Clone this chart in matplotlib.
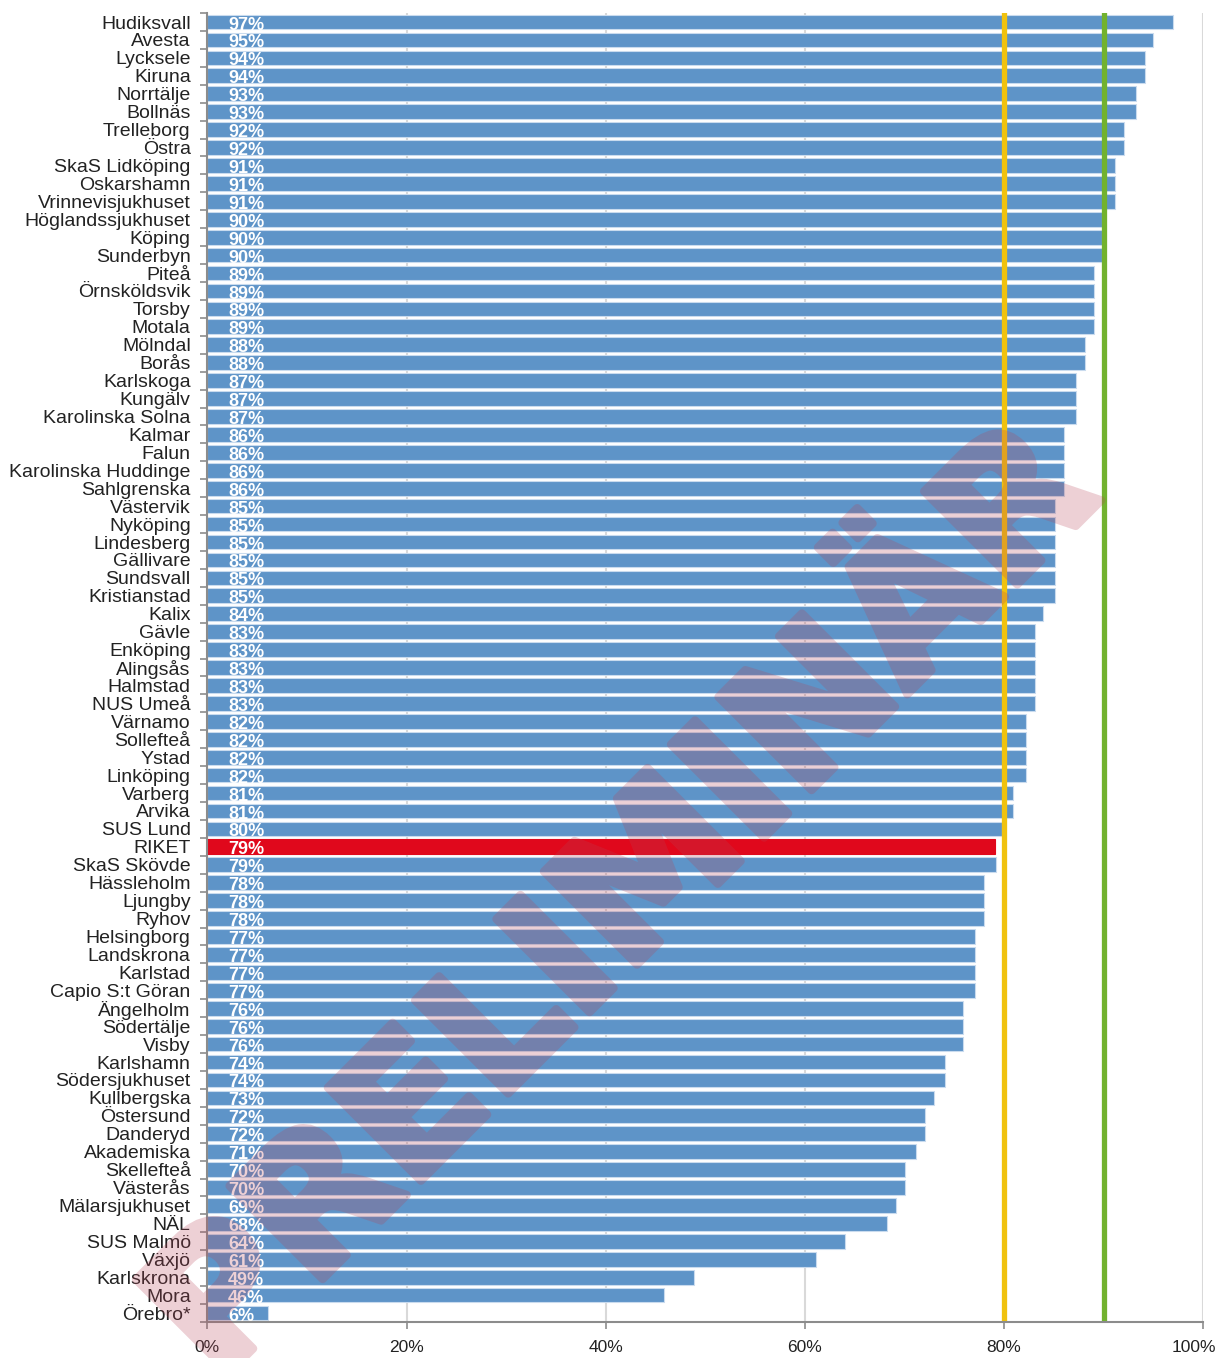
import matplotlib
matplotlib.use("Agg")
import matplotlib.pyplot as plt
import matplotlib.patheffects as pe
from matplotlib.ticker import FixedLocator
from matplotlib.transforms import ScaledTranslation

plt.rcParams['font.family'] = ['Liberation Sans', 'DejaVu Sans']

# hospitals, top to bottom
names = ["Hudiksvall", "Avesta", "Lycksele", "Kiruna", "Norrtälje", "Bollnäs",
         "Trelleborg", "Östra", "SkaS Lidköping", "Oskarshamn", "Vrinnevisjukhuset",
         "Höglandssjukhuset", "Köping", "Sunderbyn", "Piteå", "Örnsköldsvik",
         "Torsby", "Motala", "Mölndal", "Borås", "Karlskoga", "Kungälv",
         "Karolinska Solna", "Kalmar", "Falun", "Karolinska Huddinge", "Sahlgrenska",
         "Västervik", "Nyköping", "Lindesberg", "Gällivare", "Sundsvall",
         "Kristianstad", "Kalix", "Gävle", "Enköping", "Alingsås", "Halmstad",
         "NUS Umeå", "Värnamo", "Sollefteå", "Ystad", "Linköping", "Varberg",
         "Arvika", "SUS Lund", "RIKET", "SkaS Skövde", "Hässleholm", "Ljungby",
         "Ryhov", "Helsingborg", "Landskrona", "Karlstad", "Capio S:t Göran",
         "Ängelholm", "Södertälje", "Visby", "Karlshamn", "Södersjukhuset",
         "Kullbergska", "Östersund", "Danderyd", "Akademiska", "Skellefteå",
         "Västerås", "Mälarsjukhuset", "NÄL", "SUS Malmö", "Växjö", "Karlskrona",
         "Mora", "Örebro*"]

values = [97.0, 94.9, 94.1, 94.1, 93.2, 93.2,
          92.0, 92.0, 91.1, 91.1, 91.1,
          89.8, 89.8, 89.8, 89.0, 89.0,
          89.0, 89.0, 88.1, 88.1, 87.2, 87.2,
          87.2, 86.0, 86.0, 86.0, 86.0,
          85.1, 85.1, 85.1, 85.1, 85.1,
          85.1, 83.9, 83.1, 83.1, 83.1, 83.1,
          83.1, 82.2, 82.2, 82.2, 82.2, 80.9,
          80.9, 79.8, 79.1, 79.2, 78.0, 78.0,
          78.0, 77.1, 77.1, 77.1, 77.1,
          75.9, 75.9, 75.9, 74.1, 74.1,
          73.0, 72.1, 72.1, 71.2, 70.0,
          70.0, 69.1, 68.2, 64.0, 61.1, 48.9,
          45.9, 6.1]

labels = [97, 95, 94, 94, 93, 93, 92, 92, 91, 91, 91, 90, 90, 90, 89, 89,
          89, 89, 88, 88, 87, 87, 87, 86, 86, 86, 86, 85, 85, 85, 85, 85,
          85, 84, 83, 83, 83, 83, 83, 82, 82, 82, 82, 81, 81, 80, 79, 79,
          78, 78, 78, 77, 77, 77, 77, 76, 76, 76, 74, 74, 73, 72, 72, 71,
          70, 70, 69, 68, 64, 61, 49, 46, 6]

target_low = 80
target_high = 90
xticks = [0, 20, 40, 60, 80, 100]

n = len(names)
ypos = list(range(n))
colors = ['#E0081C' if nm == "RIKET" else '#5E94C8' for nm in names]
edges = ['#E0081C' if nm == "RIKET" else '#C9DBEE' for nm in names]

fig = plt.figure(figsize=(12.21, 13.58), dpi=100)
ax = fig.add_axes([0.1698, 0.0265, 0.8157, 0.9639])

ax.barh(ypos, values, height=0.82, color=colors, edgecolor=edges, linewidth=0.8, zorder=2)
ax.axvline(target_low, color='#F0C20E', lw=3.8, zorder=3)
ax.axvline(target_high, color='#72B22E', lw=3.8, zorder=3)

for y, lab in zip(ypos, labels):
    ax.text(2.1, y + 0.42, f"{lab}%", color='white', fontsize=13, fontweight='bold',
            ha='left', va='baseline', zorder=4)

ax.set_xlim(0, 100)
ax.set_ylim(n - 0.5, -0.5)
ax.set_xticks(xticks)
ax.set_xticklabels([f"{t}%" for t in xticks], fontsize=12.5, color='#222222')
ax.tick_params(axis='x', length=5, width=1.2, color='#8c8c8c', pad=8)
# keep the 100% label inside the figure, as the original does
last = ax.get_xticklabels()[-1]
last.set_transform(last.get_transform() + ScaledTranslation(-9 / 100, 0, fig.dpi_scale_trans))

ax.set_yticks(ypos)
ax.set_yticklabels(names, fontsize=14, color='#222222')
ax.tick_params(axis='y', which='major', length=0, pad=12)
ax.yaxis.set_minor_locator(FixedLocator([i - 0.5 for i in range(n + 1)]))
ax.tick_params(axis='y', which='minor', length=5, width=1.2, color='#8c8c8c', direction='out')

ax.grid(axis='x', color='#D9D9D9', lw=1.5, zorder=0)
ax.set_axisbelow(True)
for side in ['top', 'right']:
    ax.spines[side].set_visible(False)
for side in ['left', 'bottom']:
    ax.spines[side].set_color('#8c8c8c')
    ax.spines[side].set_linewidth(1.5)
    ax.spines[side].set_zorder(5)


# watermark: drawn opaque (with a thickening stroke), then faded as one layer
def fade(img, dpi):
    img = img.copy()
    img[..., 3] *= 0.25
    return img, 0, 0


wm = fig.text(0.512, 0.333, "PRELIMINÄR", rotation=45, rotation_mode='anchor',
              fontsize=130, fontweight='bold', family='DejaVu Sans',
              color='#B74458', ha='center', va='center', zorder=10)
wm.set_path_effects([pe.withStroke(linewidth=6, foreground='#B74458', joinstyle='round')])
wm.set_agg_filter(fade)

fig.savefig("out.png", dpi=100)
